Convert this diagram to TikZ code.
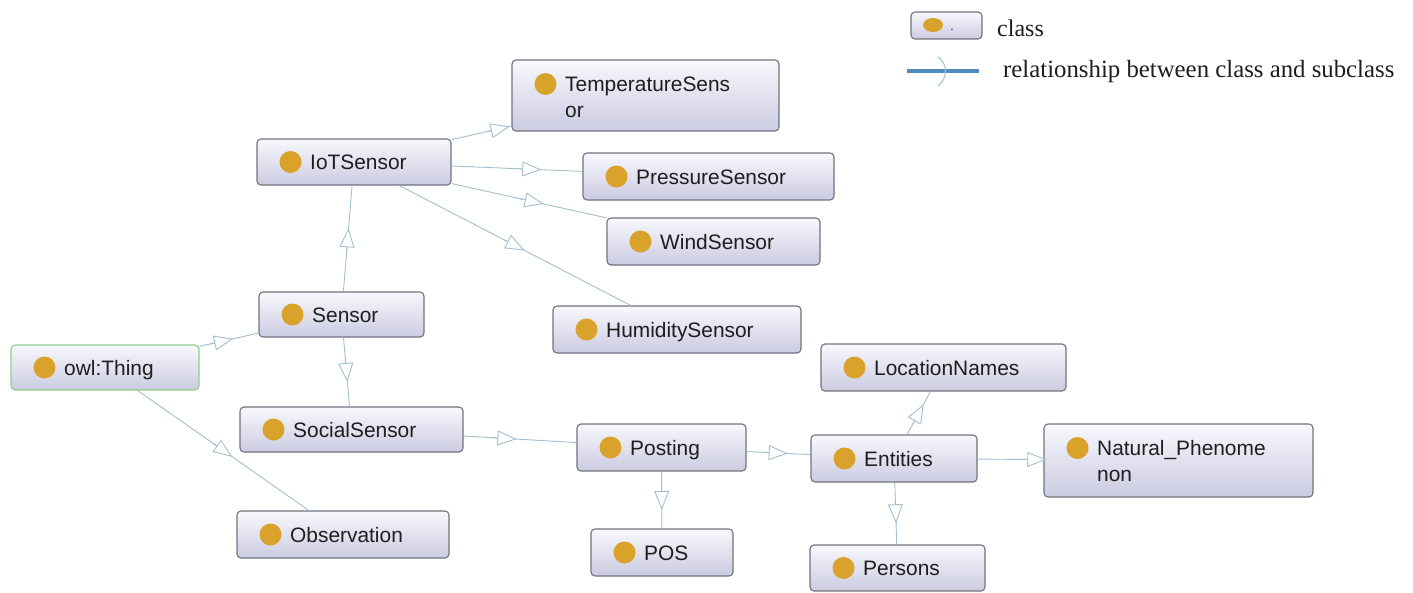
\documentclass[tikz,border=0pt]{standalone}
\usepackage{fontspec}
\setsansfont{Liberation Sans}
\newfontfamily\legfont{Liberation Serif}
\usetikzlibrary{arrows.meta,calc}
\definecolor{edgec}{HTML}{A3BFD0}
\definecolor{boxdraw}{HTML}{72727E}
\definecolor{boxtop}{HTML}{F8F8FD}
\definecolor{boxbot}{HTML}{CBCBE2}
\definecolor{greenb}{HTML}{8CD08C}
\definecolor{dotc}{HTML}{D9A22A}
\definecolor{txtc}{HTML}{1E1E1E}
\definecolor{leglinec}{HTML}{4F8BBF}
\definecolor{chevc}{HTML}{A8C8E0}
\tikzset{
  cbox/.style={draw=boxdraw, line width=1.1pt, rounded corners=4pt, top color=boxtop, bottom color=boxbot, inner sep=0pt},
  owlbox/.style={cbox, draw=greenb},
  lbl/.style={font=\sffamily\fontsize{20.9}{25}\selectfont, text=txtc, inner sep=0pt, anchor=base west},
  legtxt/.style={font=\legfont\fontsize{24}{28}\selectfont, text=txtc, inner sep=0pt, anchor=base west},
  edge/.style={draw=edgec, line width=0.9pt},
  tipc/.style={edge, -{Triangle[open, fill=white, length=19pt, width=15pt]}},
}
\newcommand\cls[7][cbox]{%
  \pgfmathsetmacro\cx{(#3+#5)/2}%
  \pgfmathsetmacro\cy{(#4+#6)/2}%
  \pgfmathsetmacro\bw{#5-#3}%
  \pgfmathsetmacro\bh{#6-#4}%
  \node[#1, minimum width=\bw pt, minimum height=\bh pt] (#2) at (\cx,\cy) {};
  \fill[dotc] (#3+33.5,\cy) circle (11pt);
  \node[lbl] (#2-t) at (#3+53,\cy+7.5) {#7};
}
\newcommand\clsii[8][cbox]{%
  \pgfmathsetmacro\cx{(#3+#5)/2}%
  \pgfmathsetmacro\cy{(#4+#6)/2}%
  \pgfmathsetmacro\bw{#5-#3}%
  \pgfmathsetmacro\bh{#6-#4}%
  \node[#1, minimum width=\bw pt, minimum height=\bh pt] (#2) at (\cx,\cy) {};
  \fill[dotc] (#3+33.5,#4+24) circle (11pt);
  \node[lbl] (#2-t1) at (#3+53,#4+31.5) {#7};
  \node[lbl] (#2-t2) at (#3+53,#4+57.5) {#8};
}
\newcommand\subcl[2]{%
  \draw[edge] (#1) -- (#2);
  \coordinate (m) at ($(#1.center)!0.5!(#2.center)$);
  \draw[tipc] ($(m)!-14pt!(#2.center)$) -- ($(m)!10pt!(#2.center)$);
}
\begin{document}
\begin{tikzpicture}[x=1pt,y=-1pt]
\useasboundingbox (0,0) rectangle (1413,592);
\fill[white] (0,0) rectangle (1413,592);

% classes
\clsii{temp}{512}{60}{779}{131}{TemperatureSens}{or}
\cls{iot}{257}{139}{451}{185}{IoTSensor}
\cls{pressure}{583}{153}{834}{200}{PressureSensor}
\cls{wind}{607}{218}{820}{265}{WindSensor}
\cls{humidity}{553}{306}{801}{353}{HumiditySensor}
\cls{sensor}{259}{292}{424}{337}{Sensor}
\cls[owlbox]{owl}{11}{345}{199}{390}{owl:Thing}
\cls{social}{240}{407}{463}{452}{SocialSensor}
\cls{observation}{237}{511}{449}{558}{Observation}
\cls{location}{821}{344}{1066}{391}{LocationNames}
\cls{posting}{577}{424}{746}{471}{Posting}
\cls{entities}{811}{435}{977}{482}{Entities}
\cls{pos}{591}{529}{733}{576}{POS}
\cls{persons}{810}{545}{985}{591}{Persons}
\clsii{natural}{1044}{424}{1313}{497}{Natural\_Phenome}{non}

% subclass relations
\subcl{owl}{sensor}
\subcl{owl}{observation}
\subcl{sensor}{iot}
\subcl{sensor}{social}
\subcl{iot}{temp}
\subcl{iot}{pressure}
\subcl{iot}{wind}
\subcl{iot}{humidity}
\subcl{social}{posting}
\subcl{posting}{pos}
\subcl{posting}{entities}
\subcl{entities}{location}
\subcl{entities}{natural}
\subcl{entities}{persons}

% legend
\node[cbox, minimum width=71pt, minimum height=27pt] (legbox) at (946.5,25.5) {};
\fill[dotc] (933,25) ellipse (10pt and 7pt);
\node[font=\sffamily\fontsize{12}{12}\selectfont, text=txtc, inner sep=0pt, anchor=base] (legper) at (952,30) {.};
\node[legtxt] (legclass) at (997,36) {class};
\coordinate (lega) at (907,71);
\coordinate (legb) at (979,71);
\draw[leglinec, line width=4pt] (lega) -- (legb);
\draw[chevc, line width=1.2pt] (938,57) .. controls (948,64) and (948,78) .. (938,86);
\node[legtxt, font=\legfont\fontsize{24.8}{28}\selectfont] (legrel) at (1003,77) {relationship between class and subclass};
\end{tikzpicture}
\end{document}
